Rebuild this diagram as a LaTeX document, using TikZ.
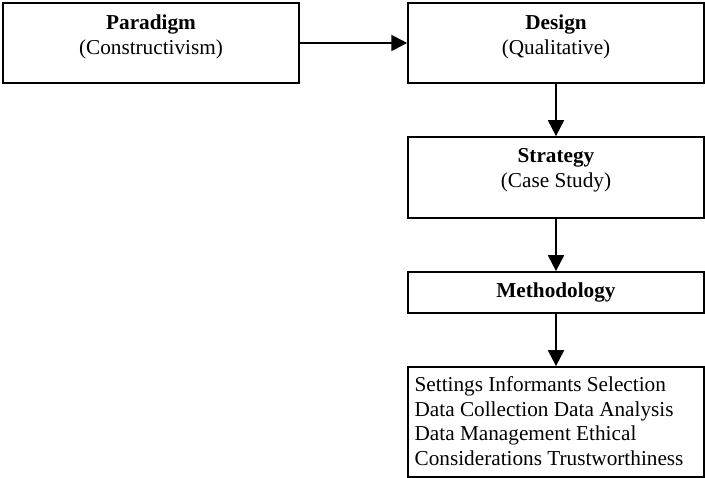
\documentclass[tikz,border=0pt]{standalone}
\usepackage{fontspec}
\setmainfont{Liberation Serif}
\usetikzlibrary{arrows.meta}
\begin{document}
\begin{tikzpicture}[x=0.565pt,y=-0.565pt,every node/.style={font=\fontsize{12}{14}\selectfont},
  box/.style={draw,line width=0.95pt,inner sep=0pt,minimum width=167.2pt},
  lbl/.style={anchor=north,align=center,inner sep=0pt},
  arr/.style={line width=1.2pt,-{Triangle[length=9pt,width=9pt]}}]
  \useasboundingbox (0,0) rectangle (705,478);
  \node[box,minimum height=45.2pt] (para) at (151,43) {};
  \node[box,minimum height=45.2pt] (design) at (556,43) {};
  \node[box,minimum height=45.8pt] (strat) at (556,177.5) {};
  \node[box,minimum height=23.2pt] (meth) at (556,292.5) {\textbf{Methodology}};
  \node[box,minimum height=62.2pt] (methods) at (556,422) {};
  \node[lbl] (paratxt) at ([yshift=-6.8pt]para.north) {\textbf{Paradigm}\\(Constructivism)};
  \node[lbl] (designtxt) at ([yshift=-6.8pt]design.north) {\textbf{Design}\\(Qualitative)};
  \node[lbl] (strattxt) at ([yshift=-7pt]strat.north) {\textbf{Strategy}\\(Case Study)};
  \node[anchor=north west,align=left,inner sep=0pt] (methodstxt) at ([xshift=4pt,yshift=-5.6pt]methods.north west)
    {Settings Informants Selection\\Data Collection Data Analysis\\Data Management Ethical\\Considerations Trustworthiness};
  \draw[arr] (para) -- (design);
  \draw[arr] (design) -- (strat);
  \draw[arr] (strat) -- (meth);
  \draw[arr] (meth) -- (methods);
\end{tikzpicture}
\end{document}
